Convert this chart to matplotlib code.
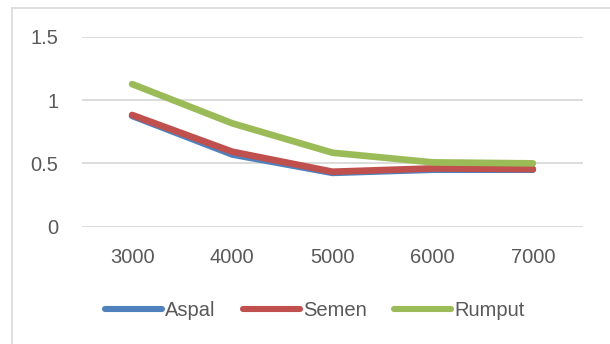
import matplotlib as mpl
mpl.use("Agg")
import matplotlib.pyplot as plt
from matplotlib.lines import Line2D

# data
categories = ["3000", "4000", "5000", "6000", "7000"]
aspal  = [0.875, 0.57, 0.425, 0.45, 0.45]
semen  = [0.882, 0.592, 0.434, 0.46, 0.455]
rumput = [1.126, 0.816, 0.584, 0.508, 0.50]
y_ticks = [0, 0.5, 1, 1.5]
y_labels = ["0", "0.5", "1", "1.5"]

C_ASPAL  = "#4F81BD"
C_SEMEN  = "#C0504D"
C_RUMPUT = "#9BBB59"
C_GRID   = "#D9D9D9"
C_TEXT   = "#595959"
FS = 14.5

plt.rcParams.update({
    "font.family": ["Liberation Sans", "DejaVu Sans"],
    "font.size": FS,
})

W, H = 610, 344
fig = plt.figure(figsize=(W / 100, H / 100), dpi=100)
ax = fig.add_axes([82 / W, 1 - 226.7 / H, (583 - 82) / W, (226.7 - 36.7) / H])

xs = list(range(len(categories)))
common = dict(lw=4.8, solid_capstyle="round", solid_joinstyle="round", zorder=3)
ax.plot(xs, aspal, color=C_ASPAL, label="Aspal", **common)
ax.plot(xs, semen, color=C_SEMEN, label="Semen", **common)
ax.plot(xs, rumput, color=C_RUMPUT, label="Rumput", **common)

ax.set_xlim(-0.5, len(categories) - 0.5)
ax.set_ylim(0, 1.5)
ax.set_yticks(y_ticks)
ax.set_yticklabels(y_labels)
ax.set_xticks(xs)
ax.set_xticklabels(categories)
ax.yaxis.grid(True, color=C_GRID, lw=1.3, zorder=0)
ax.set_axisbelow(True)
for s in ax.spines.values():
    s.set_visible(False)
ax.tick_params(length=0, colors=C_TEXT, labelsize=FS)
ax.tick_params(axis="y", pad=17)
ax.tick_params(axis="x", pad=15)

# chart frame: only top and left edges are visible in the crop
fig.add_artist(Line2D([12 / W, 1.0], [1 - 7.5 / H, 1 - 7.5 / H],
                      transform=fig.transFigure, color=C_GRID, lw=1.2))
fig.add_artist(Line2D([12 / W, 12 / W], [0.0, 1 - 7.5 / H],
                      transform=fig.transFigure, color=C_GRID, lw=1.2))

leg = fig.legend(loc="center", bbox_to_anchor=(0.516, 1 - 311 / H), ncol=3,
                 frameon=False, handlelength=2.85, handletextpad=0.15,
                 columnspacing=1.35, fontsize=FS)
for t in leg.get_texts():
    t.set_color(C_TEXT)
for h in leg.get_lines():
    h.set_linewidth(4.4)
    h.set_solid_capstyle("round")

fig.savefig("out.png", dpi=100)
